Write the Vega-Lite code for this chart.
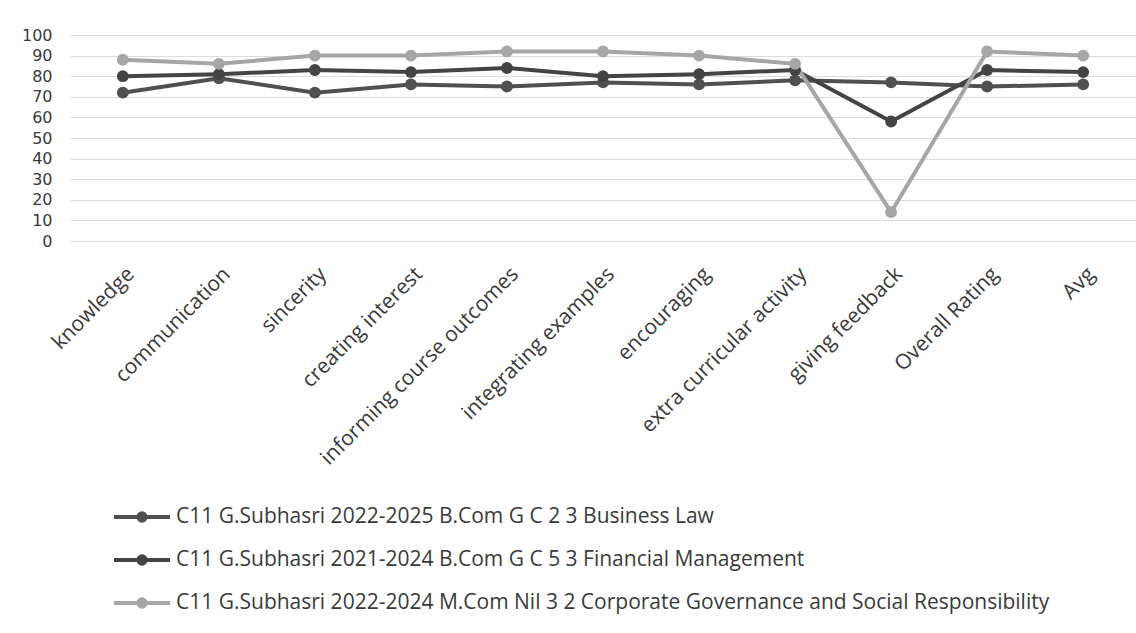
{
  "$schema": "https://vega.github.io/schema/vega-lite/v6.json",
  "autosize": {"type": "none"},
  "padding": {"left": 70, "top": 35, "right": 0, "bottom": 392},
  "width": 1066,
  "height": 206,
  "background": "white",
  "config": {
    "view": {"stroke": null},
    "font": "Open Sans",
    "axis": {"labelColor": "#3a3a3a", "domain": false, "ticks": false}
  },
  "data": {
    "values": [
      {"category": "knowledge", "series": "C11 G.Subhasri 2022-2025 B.Com G C 2 3 Business Law", "value": 72},
      {"category": "communication", "series": "C11 G.Subhasri 2022-2025 B.Com G C 2 3 Business Law", "value": 79},
      {"category": "sincerity", "series": "C11 G.Subhasri 2022-2025 B.Com G C 2 3 Business Law", "value": 72},
      {"category": "creating interest", "series": "C11 G.Subhasri 2022-2025 B.Com G C 2 3 Business Law", "value": 76},
      {"category": "informing course outcomes", "series": "C11 G.Subhasri 2022-2025 B.Com G C 2 3 Business Law", "value": 75},
      {"category": "integrating examples", "series": "C11 G.Subhasri 2022-2025 B.Com G C 2 3 Business Law", "value": 77},
      {"category": "encouraging", "series": "C11 G.Subhasri 2022-2025 B.Com G C 2 3 Business Law", "value": 76},
      {"category": "extra curricular activity", "series": "C11 G.Subhasri 2022-2025 B.Com G C 2 3 Business Law", "value": 78},
      {"category": "giving feedback", "series": "C11 G.Subhasri 2022-2025 B.Com G C 2 3 Business Law", "value": 77},
      {"category": "Overall Rating", "series": "C11 G.Subhasri 2022-2025 B.Com G C 2 3 Business Law", "value": 75},
      {"category": "Avg", "series": "C11 G.Subhasri 2022-2025 B.Com G C 2 3 Business Law", "value": 76},
      {"category": "knowledge", "series": "C11 G.Subhasri 2021-2024 B.Com G C 5 3 Financial Management", "value": 80},
      {"category": "communication", "series": "C11 G.Subhasri 2021-2024 B.Com G C 5 3 Financial Management", "value": 81},
      {"category": "sincerity", "series": "C11 G.Subhasri 2021-2024 B.Com G C 5 3 Financial Management", "value": 83},
      {"category": "creating interest", "series": "C11 G.Subhasri 2021-2024 B.Com G C 5 3 Financial Management", "value": 82},
      {"category": "informing course outcomes", "series": "C11 G.Subhasri 2021-2024 B.Com G C 5 3 Financial Management", "value": 84},
      {"category": "integrating examples", "series": "C11 G.Subhasri 2021-2024 B.Com G C 5 3 Financial Management", "value": 80},
      {"category": "encouraging", "series": "C11 G.Subhasri 2021-2024 B.Com G C 5 3 Financial Management", "value": 81},
      {"category": "extra curricular activity", "series": "C11 G.Subhasri 2021-2024 B.Com G C 5 3 Financial Management", "value": 83},
      {"category": "giving feedback", "series": "C11 G.Subhasri 2021-2024 B.Com G C 5 3 Financial Management", "value": 58},
      {"category": "Overall Rating", "series": "C11 G.Subhasri 2021-2024 B.Com G C 5 3 Financial Management", "value": 83},
      {"category": "Avg", "series": "C11 G.Subhasri 2021-2024 B.Com G C 5 3 Financial Management", "value": 82},
      {"category": "knowledge", "series": "C11 G.Subhasri 2022-2024 M.Com Nil 3 2 Corporate Governance and Social Responsibility", "value": 88},
      {"category": "communication", "series": "C11 G.Subhasri 2022-2024 M.Com Nil 3 2 Corporate Governance and Social Responsibility", "value": 86},
      {"category": "sincerity", "series": "C11 G.Subhasri 2022-2024 M.Com Nil 3 2 Corporate Governance and Social Responsibility", "value": 90},
      {"category": "creating interest", "series": "C11 G.Subhasri 2022-2024 M.Com Nil 3 2 Corporate Governance and Social Responsibility", "value": 90},
      {"category": "informing course outcomes", "series": "C11 G.Subhasri 2022-2024 M.Com Nil 3 2 Corporate Governance and Social Responsibility", "value": 92},
      {"category": "integrating examples", "series": "C11 G.Subhasri 2022-2024 M.Com Nil 3 2 Corporate Governance and Social Responsibility", "value": 92},
      {"category": "encouraging", "series": "C11 G.Subhasri 2022-2024 M.Com Nil 3 2 Corporate Governance and Social Responsibility", "value": 90},
      {"category": "extra curricular activity", "series": "C11 G.Subhasri 2022-2024 M.Com Nil 3 2 Corporate Governance and Social Responsibility", "value": 86},
      {"category": "giving feedback", "series": "C11 G.Subhasri 2022-2024 M.Com Nil 3 2 Corporate Governance and Social Responsibility", "value": 14},
      {"category": "Overall Rating", "series": "C11 G.Subhasri 2022-2024 M.Com Nil 3 2 Corporate Governance and Social Responsibility", "value": 92},
      {"category": "Avg", "series": "C11 G.Subhasri 2022-2024 M.Com Nil 3 2 Corporate Governance and Social Responsibility", "value": 90}
    ]
  },
  "mark": {"type": "line", "strokeWidth": 4, "point": {"size": 140, "filled": true, "opacity": 1}},
  "encoding": {
    "x": {
      "field": "category",
      "type": "nominal",
      "sort": null,
      "scale": {"type": "point", "padding": 0.55},
      "axis": {"title": null, "labelAngle": -45, "labelFontSize": 21, "labelPadding": 22, "labelLimit": 500, "grid": false}
    },
    "y": {
      "field": "value",
      "type": "quantitative",
      "scale": {"domain": [0, 100], "nice": false},
      "axis": {"title": null, "values": [0, 10, 20, 30, 40, 50, 60, 70, 80, 90, 100], "labelFont": "DejaVu Sans", "labelFontSize": 16, "labelPadding": 18, "grid": true, "gridColor": "#dcdcdc", "gridWidth": 1}
    },
    "color": {
      "field": "series",
      "type": "nominal",
      "sort": null,
      "scale": {"range": ["#505050", "#444444", "#a6a6a6"]},
      "legend": {
        "title": null,
        "orient": "none",
        "legendX": 56,
        "legendY": 466,
        "direction": "vertical",
        "labelFontSize": 21,
        "labelColor": "#3a3a3a",
        "labelLimit": 1100,
        "rowPadding": 15,
        "labelOffset": 18,
        "symbolType": "M-2,0H2M-0.26,0A0.26,0.26 0 1,0 0.26,0A0.26,0.26 0 1,0 -0.26,0M-0.1,0A0.1,0.1 0 1,0 0.1,0A0.1,0.1 0 1,0 -0.1,0",
        "symbolSize": 784,
        "symbolStrokeWidth": 4
      }
    }
  }
}
